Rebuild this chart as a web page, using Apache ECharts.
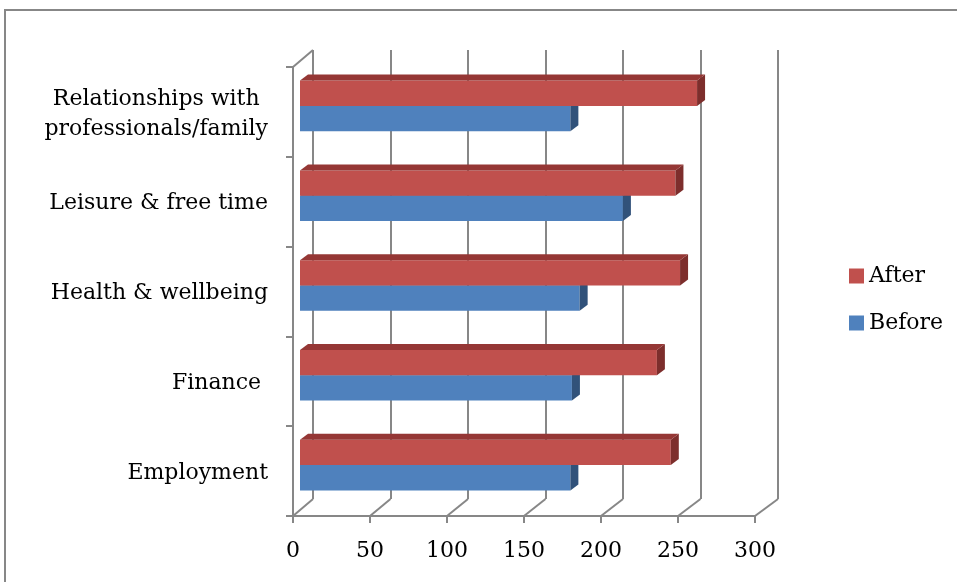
<!DOCTYPE html>
<html>
<head>
<meta charset="utf-8">
<style>
  html, body { margin: 0; padding: 0; background: #fff; }
  #chart { width: 957px; height: 582px; }
</style>
<script src="https://cdn.jsdelivr.net/npm/echarts@6/dist/echarts.min.js"></script>
</head>
<body>
<div id="chart"></div>
<script>
// data
var categories = ['Employment', 'Finance ', 'Health & wellbeing', 'Leisure & free time', 'Relationships with\nprofessionals/family'];
var beforeValues = [175, 176, 181, 209, 175];
var afterValues = [240, 231, 246, 243, 257];
var xTicks = [0, 50, 100, 150, 200, 250, 300];

var FONT = 'DejaVu Serif';
var GRID_COLOR = '#878787';

// 3d look: front plane, back wall, and the plane the bars sit in
var front = { left: 293, top: 67, width: 462, height: 449 };
var back = { left: 313, top: 50, width: 465, height: 449 };
var mid = { left: 300, top: 61, width: 463.5, height: 449 };
var DX = 8, DY = -6; // bar depth

var chart = echarts.init(document.getElementById('chart'));

function hiddenAxis(type, gridIndex) {
  var a = {
    type: type, gridIndex: gridIndex,
    axisLine: { show: false }, axisTick: { show: false },
    axisLabel: { show: false }, splitLine: { show: false }
  };
  if (type === 'category') a.data = categories;
  return a;
}

function barRenderer(colors, isUpper) {
  return function (params, api) {
    var idx = api.value(1);
    var p0 = api.coord([0, idx]);
    var p1 = api.coord([api.value(0), idx]);
    var band = api.size([0, 1])[1];
    var h = band * 0.2815;
    var y0 = isUpper ? p0[1] - h : p0[1];
    var y1 = y0 + h;
    var x0 = p0[0], x1 = p1[0];
    return {
      type: 'group',
      children: [
        { type: 'rect', shape: { x: x0, y: y0, width: x1 - x0, height: h }, style: { fill: colors[0] } },
        { type: 'polygon', shape: { points: [[x1, y0], [x1 + DX, y0 + DY], [x1 + DX, y1 + DY], [x1, y1]] }, style: { fill: colors[2] } },
        { type: 'polygon', shape: { points: [[x0, y0], [x1, y0], [x1 + DX, y0 + DY], [x0 + DX, y0 + DY]] }, style: { fill: colors[1] } }
      ]
    };
  };
}

function toData(vals) {
  return vals.map(function (v, i) { return [v, i]; });
}

chart.setOption({
  animation: false,
  backgroundColor: '#fff',
  grid: [
    { left: front.left, top: front.top, width: front.width, height: front.height },
    { left: back.left, top: back.top, width: back.width, height: back.height },
    { left: mid.left, top: mid.top, width: mid.width, height: mid.height }
  ],
  xAxis: [
    {
      type: 'value', gridIndex: 0, min: 0, max: 300, interval: 50,
      axisLine: { show: true, lineStyle: { color: GRID_COLOR, width: 2 } },
      axisTick: { show: true, length: 7, lineStyle: { color: GRID_COLOR, width: 2 } },
      axisLabel: { margin: 24, fontFamily: FONT, fontSize: 22, color: '#000' },
      splitLine: { show: false }
    },
    {
      type: 'value', gridIndex: 1, min: 0, max: 300, interval: 50,
      axisLine: { show: false }, axisTick: { show: false }, axisLabel: { show: false },
      splitLine: { show: true, showMinLine: true, showMaxLine: true, lineStyle: { color: GRID_COLOR, width: 2 } }
    },
    { type: 'value', gridIndex: 2, min: 0, max: 300, axisLine: { show: false }, axisTick: { show: false }, axisLabel: { show: false }, splitLine: { show: false } }
  ],
  yAxis: [
    {
      type: 'category', gridIndex: 0, data: categories,
      axisLine: { show: true, lineStyle: { color: GRID_COLOR, width: 2 } },
      axisTick: { show: true, length: 7, lineStyle: { color: GRID_COLOR, width: 2 } },
      axisLabel: {
        margin: 25, fontFamily: FONT, fontSize: 22, color: '#000', lineHeight: 30,
        padding: [4, 0, 0, 0],
        formatter: function (v) {
          if (v.indexOf('\n') < 0) return v;
          return v.split('\n').map(function (s) { return '{c|' + s + '}'; }).join('\n');
        },
        rich: { c: { align: 'center', fontFamily: FONT, fontSize: 22, color: '#000', lineHeight: 30 } }
      },
      splitLine: { show: false }
    },
    hiddenAxis('category', 1),
    hiddenAxis('category', 2)
  ],
  legend: {
    orient: 'vertical', left: 849, top: 265, padding: 0,
    itemWidth: 15, itemHeight: 15, itemGap: 25,
    icon: 'rect',
    data: ['After', 'Before'],
    textStyle: { fontFamily: FONT, fontSize: 22, color: '#000' }
  },
  series: [
    {
      name: 'Before', type: 'custom', xAxisIndex: 2, yAxisIndex: 2,
      itemStyle: { color: '#4F81BD' },
      encode: { x: 0, y: 1 },
      renderItem: barRenderer(['#4F81BD', '#3B6294', '#31527A'], false),
      data: toData(beforeValues)
    },
    {
      name: 'After', type: 'custom', xAxisIndex: 2, yAxisIndex: 2,
      itemStyle: { color: '#C0504D' },
      encode: { x: 0, y: 1 },
      renderItem: barRenderer(['#C0504D', '#953735', '#7D2E2C'], true),
      data: toData(afterValues)
    }
  ]
});

// floor diagonals and the wall corner, placed from the axes' own scales
var frontBottom = front.top + front.height;
var backBottom = back.top + back.height;
var deco = [
  { type: 'rect', shape: { x: 5, y: 10, width: 2000, height: 2000 }, style: { fill: 'none', stroke: GRID_COLOR, lineWidth: 2 }, z: 0 },
  { type: 'line', shape: { x1: front.left, y1: front.top, x2: back.left, y2: back.top }, style: { stroke: GRID_COLOR, lineWidth: 2 }, z: 0 }
];
xTicks.forEach(function (v) {
  var fx = chart.convertToPixel({ xAxisIndex: 0 }, v);
  var bx = chart.convertToPixel({ xAxisIndex: 1 }, v);
  deco.push({ type: 'line', shape: { x1: fx, y1: frontBottom, x2: bx, y2: backBottom }, style: { stroke: GRID_COLOR, lineWidth: 2 }, z: 0 });
});
chart.setOption({ graphic: deco });
</script>
</body>
</html>
